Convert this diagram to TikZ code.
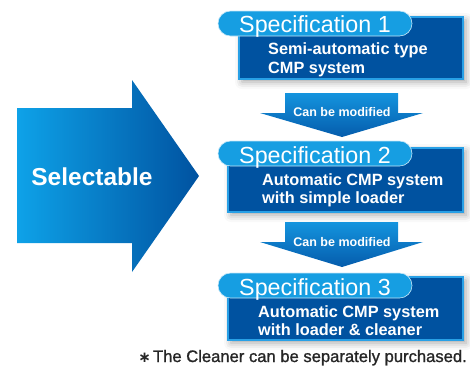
\documentclass[tikz,border=0pt]{standalone}
\usepackage{fontspec}
\setmainfont{Liberation Sans}
\newfontfamily\dvs{DejaVu Sans}
\newfontfamily\notefont[FakeBold=1.2]{Liberation Sans}
\usetikzlibrary{shadows.blur}
\definecolor{bodyblue}{RGB}{0,82,160}
\definecolor{edgeblue}{RGB}{40,160,230}
\definecolor{pillblue}{RGB}{22,158,226}
\definecolor{lightblue}{RGB}{14,162,232}
\definecolor{darkblue}{RGB}{0,82,160}
\definecolor{arrtop}{RGB}{20,148,222}
\definecolor{arrbot}{RGB}{5,92,172}
\begin{document}
\begin{tikzpicture}[x=1pt,y=-1pt,
  shad/.style={blur shadow={shadow xshift=3pt,shadow yshift=-3pt,shadow blur radius=7pt,shadow opacity=35}},
  specbody/.style={draw=edgeblue,line width=1.2pt,fill=bodyblue,shad},
  pill/.style={fill=pillblue,draw=white!75!pillblue,line width=0.6pt,rounded corners=12.5pt},
  pilltext/.style={text=white,font=\fontsize{23.3}{26}\selectfont,anchor=base,inner sep=0pt},
  bodytext/.style={text=white,font=\bfseries\fontsize{16.3}{19}\selectfont,anchor=base west,inner sep=0pt},
  modtext/.style={text=white,font=\bfseries\fontsize{12.5}{14}\selectfont,inner sep=0pt},
  modarrow/.style={top color=arrtop,bottom color=arrbot},
]
\useasboundingbox (0,0) rectangle (470,368);

% big arrow
\path[left color=lightblue,right color=darkblue]
  (17,108) -- (132,108) -- (132,80) -- (199,176) -- (132,272) -- (132,243) -- (17,243) -- cycle;
\node[text=white,font=\bfseries\fontsize{24.5}{28}\selectfont,inner sep=0pt] (sel) at (92,177) {Selectable};

% spec bodies
\path[specbody] (239,17) rectangle (463,79);
\path[specbody] (228,148) rectangle (463,212);
\path[specbody] (228,277) rectangle (463,340);

% pills
\draw[pill] (218,11) rectangle (412,36);
\draw[pill] (218,141) rectangle (412,166);
\draw[pill] (218,273) rectangle (412,298);
\node[pilltext] (p1) at (315,32) {Specification 1};
\node[pilltext] (p2) at (315,163) {Specification 2};
\node[pilltext] (p3) at (315,295) {Specification 3};

% body texts
\node[bodytext] (b1a) at (268,54) {Semi-automatic type};
\node[bodytext] (b1b) at (268,73) {CMP system};
\node[bodytext] (b2a) at (262,185) {Automatic CMP system};
\node[bodytext] (b2b) at (262,203) {with simple loader};
\node[bodytext] (b3a) at (258,317) {Automatic CMP system};
\node[bodytext] (b3b) at (258,335) {with loader \& cleaner};

% modification arrows
\path[modarrow] (285,93) -- (398,93) -- (398,113) -- (423,113) -- (342,137) -- (260,113) -- (285,113) -- cycle;
\node[modtext] (m1) at (342,112) {Can be modified};
\path[modarrow] (285,222) -- (398,222) -- (398,242) -- (423,242) -- (342,267) -- (260,242) -- (285,242) -- cycle;
\node[modtext] (m2) at (342,242) {Can be modified};

% footnote
\node[anchor=base east,inner sep=0pt,text=black!85,font=\notefont\fontsize{16.6}{20}\selectfont] (note) at (467,362) {{\dvs\bfseries\fontsize{15}{18}\selectfont ∗}\hspace{2pt}The Cleaner can be separately purchased.};
\end{tikzpicture}
\end{document}
